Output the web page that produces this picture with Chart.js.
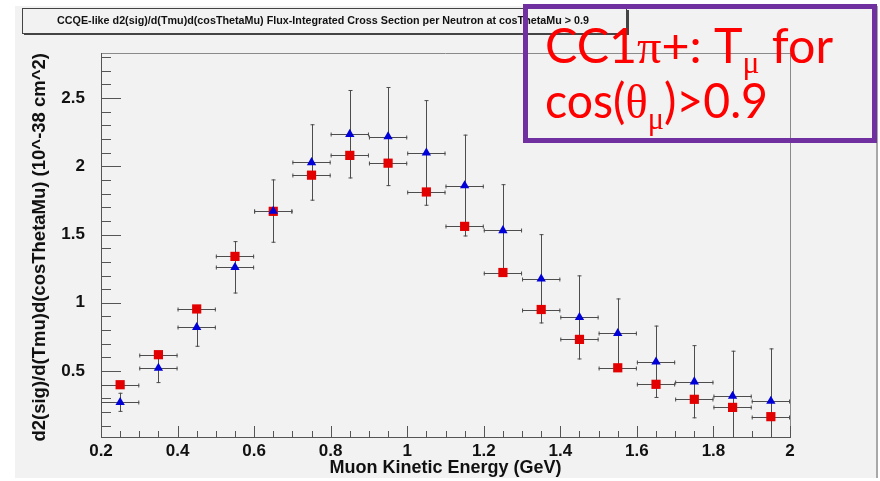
<!DOCTYPE html>
<html>
<head>
<meta charset="utf-8">
<title>CC1pi+ Tmu cross section</title>
<script src="https://cdn.jsdelivr.net/npm/chart.js@4.4.0/dist/chart.umd.min.js"></script>
<style>
  html, body { margin: 0; padding: 0; background: #ffffff; }
  #wrap { position: absolute; left: 0; top: 0; width: 880px; height: 481px; }
</style>
</head>
<body>
<div id="wrap"><canvas id="xsec"></canvas></div>
<script>
// Muon kinetic energy bins (GeV): centre and half width
const binCenters = [0.25, 0.35, 0.45, 0.55, 0.65, 0.75, 0.85, 0.95, 1.05, 1.15, 1.25, 1.35, 1.45, 1.55, 1.65, 1.75, 1.85, 1.95];
const binHalfWidths = [0.05, 0.05, 0.05, 0.05, 0.05, 0.05, 0.05, 0.05, 0.05, 0.05, 0.05, 0.05, 0.05, 0.05, 0.05, 0.05, 0.05, 0.05];

// red squares
const redValues = [0.400, 0.620, 0.955, 1.340, 1.670, 1.935, 2.080, 2.023, 1.812, 1.560, 1.222, 0.951, 0.732, 0.524, 0.403, 0.293, 0.234, 0.166];
const redErrors = [0.020, 0.020, 0.020, 0.020, 0.020, 0.020, 0.020, 0.020, 0.020, 0.020, 0.020, 0.020, 0.020, 0.020, 0.020, 0.020, 0.020, 0.020];

// blue triangles
const blueValues = [0.271, 0.522, 0.820, 1.260, 1.672, 2.028, 2.235, 2.218, 2.098, 1.859, 1.530, 1.176, 0.893, 0.776, 0.568, 0.422, 0.317, 0.280];
const blueErrors = [0.070, 0.110, 0.142, 0.192, 0.232, 0.280, 0.324, 0.363, 0.387, 0.373, 0.339, 0.327, 0.308, 0.256, 0.265, 0.268, 0.332, 0.386];

// axis labels
const xTickLabels = [0.2, 0.4, 0.6, 0.8, 1, 1.2, 1.4, 1.6, 1.8, 2];
const yTickLabels = [0.5, 1, 1.5, 2, 2.5];

const FONT = "'Liberation Sans', Arial, sans-serif";

function line(ctx, x1, y1, x2, y2) {
    ctx.beginPath();
    ctx.moveTo(x1, y1);
    ctx.lineTo(x2, y2);
    ctx.stroke();
}

// draws a line made of several font runs, squeezed to the given width
function drawRichLine(ctx, parts, x, y, width) {
    let natural = 0;
    for (const p of parts) {
        ctx.font = p.font;
        natural += ctx.measureText(p.text).width;
    }
    ctx.save();
    ctx.translate(x, y);
    ctx.scale(width / natural, 1);
    let cx = 0;
    for (const p of parts) {
        ctx.font = p.font;
        ctx.fillText(p.text, cx, p.dy || 0);
        cx += ctx.measureText(p.text).width;
    }
    ctx.restore();
}

const rootStyle = {
    id: 'rootStyle',
    beforeDraw(chart) {
        const ctx = chart.ctx;
        ctx.save();
        ctx.fillStyle = '#f2f2f2';
        ctx.fillRect(15, 6, 862, 472);
        ctx.strokeStyle = '#a8a8a8';
        ctx.lineWidth = 2;
        line(ctx, 877, 6, 877, 478);
        ctx.restore();
    },
    beforeDatasetsDraw(chart) {
        const ctx = chart.ctx;
        const xs = chart.scales.x, ys = chart.scales.y;
        const { left, right, top, bottom } = chart.chartArea;
        ctx.save();

        // frame
        ctx.lineWidth = 1;
        ctx.strokeStyle = '#8a8a8a';
        line(ctx, left, top + 0.5, right, top + 0.5);
        line(ctx, right + 0.5, top, right + 0.5, bottom);
        ctx.strokeStyle = '#555555';
        line(ctx, left + 0.5, top, left + 0.5, bottom + 1);
        line(ctx, left, bottom + 0.5, right + 1, bottom + 0.5);

        // inward ticks on y (0.1 steps) and x (0.05 steps)
        for (let i = 1; i <= 28; i++) {
            const py = Math.round(ys.getPixelForValue(i / 10)) + 0.5;
            if (py < top) continue;
            line(ctx, left, py, left + (i % 5 === 0 ? 20 : 10), py);
        }
        for (let i = 0; i <= 36; i++) {
            const px = Math.round(xs.getPixelForValue(0.2 + i * 0.05)) + 0.5;
            line(ctx, px, bottom, px, bottom - (i % 4 === 0 ? 11 : 6));
        }

        // error bars with small end caps
        ctx.beginPath();
        ctx.rect(left, top, right - left, bottom - top);
        ctx.clip();
        ctx.strokeStyle = '#4d4d4d';
        const groups = [[blueValues, blueErrors], [redValues, redErrors]];
        for (const [vals, errs] of groups) {
            binCenters.forEach((c, i) => {
                const px = Math.round(xs.getPixelForValue(c)) + 0.5;
                const py = Math.round(ys.getPixelForValue(vals[i])) + 0.5;
                const x1 = xs.getPixelForValue(c - binHalfWidths[i]);
                const x2 = xs.getPixelForValue(c + binHalfWidths[i]);
                const y1 = ys.getPixelForValue(vals[i] + errs[i]);
                const y2 = ys.getPixelForValue(vals[i] - errs[i]);
                line(ctx, x1, py, x2, py);
                line(ctx, x1 + 0.5, py - 2, x1 + 0.5, py + 2);
                line(ctx, x2 - 0.5, py - 2, x2 - 0.5, py + 2);
                line(ctx, px, y1, px, y2);
                line(ctx, px - 2, y1 + 0.5, px + 2, y1 + 0.5);
                line(ctx, px - 2, y2 - 0.5, px + 2, y2 - 0.5);
            });
        }
        ctx.restore();
    },
    afterDraw(chart) {
        const ctx = chart.ctx;
        ctx.save();

        // title box
        ctx.fillStyle = '#f2f2f2';
        ctx.fillRect(22, 8, 605, 26);
        ctx.strokeStyle = '#444444';
        ctx.lineWidth = 1;
        ctx.strokeRect(22.5, 8.5, 604, 25);
        ctx.lineWidth = 2;
        line(ctx, 24, 34, 628, 34);
        line(ctx, 628, 10, 628, 35);
        ctx.fillStyle = '#111111';
        ctx.textBaseline = 'middle';
        drawRichLine(ctx, [
            { text: 'CCQE-like d2(sig)/d(Tmu)d(cosThetaMu) Flux-Integrated Cross Section per Neutron at cosThetaMu > 0.9', font: 'bold 10.6px ' + FONT }
        ], 57, 21, 532);

        // red note in the purple box
        ctx.textAlign = 'left';
        ctx.textBaseline = 'alphabetic';
        ctx.fillStyle = '#ff0000';
        const sans = "49px Lato, 'Open Sans', sans-serif";
        const serif = "49px 'Liberation Serif', serif";
        const sub = "32px 'Liberation Serif', serif";
        drawRichLine(ctx, [
            { text: 'CC1', font: sans },
            { text: 'π', font: serif },
            { text: '+: T', font: sans },
            { text: 'μ', font: sub, dy: 10 },
            { text: ' for', font: sans }
        ], 545, 63, 288);
        drawRichLine(ctx, [
            { text: 'cos(', font: sans },
            { text: 'θ', font: serif },
            { text: 'μ', font: sub, dy: 11 },
            { text: ')>0.9', font: sans }
        ], 545, 118, 223);

        ctx.strokeStyle = '#7030a0';
        ctx.lineWidth = 5;
        ctx.strokeRect(525.5, 6.5, 349, 134);
        ctx.restore();
    }
};

const ctx = document.getElementById('xsec').getContext('2d');
new Chart(ctx, {
    type: 'scatter',
    data: {
        datasets: [{
            label: 'triangles',
            data: binCenters.map((x, i) => ({ x: x, y: blueValues[i] })),
            pointStyle: 'triangle',
            pointRadius: 5.4,
            pointBackgroundColor: '#0000d8',
            pointBorderWidth: 0,
            order: 0
        }, {
            label: 'squares',
            data: binCenters.map((x, i) => ({ x: x, y: redValues[i] })),
            pointStyle: 'rect',
            pointRadius: 6.5,
            pointBackgroundColor: '#e20000',
            pointBorderWidth: 0,
            order: 1
        }]
    },
    options: {
        responsive: true,
        maintainAspectRatio: false,
        animation: false,
        events: [],
        layout: { padding: { left: 0, top: 53, right: 90, bottom: 0 } },
        plugins: { legend: { display: false }, tooltip: { enabled: false } },
        scales: {
            x: {
                type: 'linear',
                min: 0.2,
                max: 2.0,
                grid: { display: false, drawTicks: false },
                border: { display: false },
                afterBuildTicks: (scale) => { scale.ticks = xTickLabels.map(v => ({ value: v })); },
                afterFit: (scale) => { scale.height = 44; },
                ticks: {
                    autoSkip: false,
                    maxRotation: 0,
                    padding: 4,
                    color: '#111111',
                    font: { family: FONT, size: 17, weight: 'bold' },
                    callback: (v) => String(v)
                },
                title: {
                    display: true,
                    text: 'Muon Kinetic Energy (GeV)',
                    color: '#111111',
                    font: { family: FONT, size: 18, weight: 'bold' },
                    padding: { top: 0, bottom: 2 }
                }
            },
            y: {
                type: 'linear',
                min: 0.017,
                max: 2.83,
                grid: { display: false, drawTicks: false },
                border: { display: false },
                afterBuildTicks: (scale) => { scale.ticks = yTickLabels.map(v => ({ value: v })); },
                afterFit: (scale) => { scale.width = 101; },
                ticks: {
                    padding: 16,
                    color: '#111111',
                    font: { family: FONT, size: 17, weight: 'bold' },
                    callback: (v) => String(v)
                },
                title: {
                    display: true,
                    text: 'd2(sig)/d(Tmu)d(cosThetaMu) (10^-38 cm^2)',
                    align: 'end',
                    color: '#111111',
                    font: { family: FONT, size: 18.5, weight: 'bold' },
                    padding: { top: 29, bottom: 0 }
                }
            }
        }
    },
    plugins: [rootStyle]
});
</script>
</body>
</html>
